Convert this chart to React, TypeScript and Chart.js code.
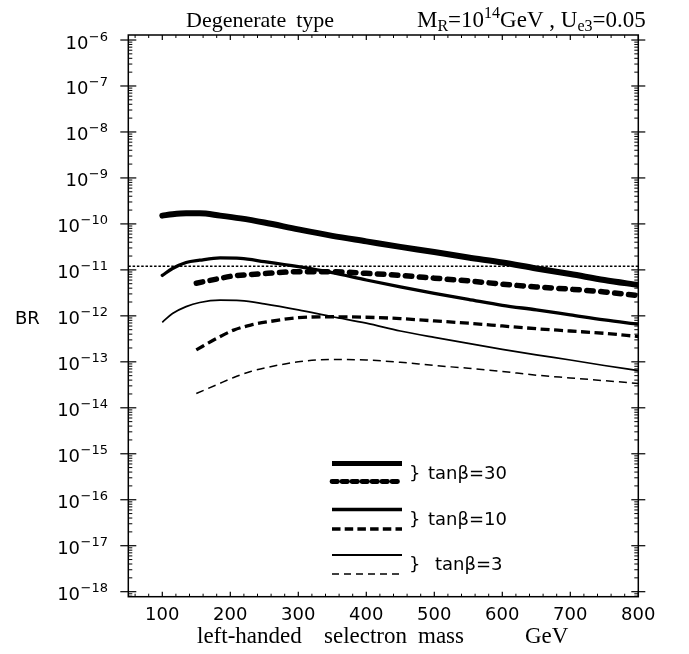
import React, { useEffect, useRef } from 'react';
import { Chart, registerables } from 'chart.js';

Chart.register(...registerables);

// x values (left-handed selectron mass, GeV)
const massSolid = [100, 115, 135, 155, 185, 215, 250, 300, 350, 400, 450, 500, 550, 600, 650, 700, 750, 800];
const massDashed = [150, 180, 205, 230, 255, 300, 350, 400, 450, 500, 550, 600, 650, 700, 750, 800];

// log10(BR)
const logBR_tb30_solid = [-9.82, -9.79, -9.77, -9.77, -9.82, -9.88, -9.97, -10.12, -10.26, -10.38, -10.5, -10.61, -10.73, -10.84, -10.97, -11.09, -11.22, -11.33];
const logBR_tb10_solid = [-11.12, -10.97, -10.84, -10.79, -10.74, -10.75, -10.82, -10.93, -11.06, -11.22, -11.37, -11.51, -11.64, -11.77, -11.87, -11.98, -12.09, -12.18];
const logBR_tb3_solid = [-12.14, -11.95, -11.8, -11.71, -11.66, -11.67, -11.74, -11.87, -12.02, -12.16, -12.33, -12.47, -12.6, -12.73, -12.85, -12.96, -13.08, -13.19];
const logBR_tb30_dashed = [-11.29, -11.2, -11.13, -11.1, -11.075, -11.04, -11.04, -11.075, -11.12, -11.18, -11.24, -11.31, -11.37, -11.42, -11.48, -11.56];
const logBR_tb10_dashed = [-12.74, -12.49, -12.31, -12.2, -12.13, -12.04, -12.02, -12.03, -12.06, -12.11, -12.16, -12.22, -12.28, -12.33, -12.38, -12.45];
const logBR_tb3_dashed = [-13.69, -13.5, -13.34, -13.21, -13.12, -13.0, -12.95, -12.96, -13.01, -13.08, -13.14, -13.21, -13.29, -13.35, -13.41, -13.47];

// experimental bound (dotted line)
const boundMass = [50, 800];
const boundBR = [1.2e-11, 1.2e-11];

// ticks
const yTickExponents = [-6, -7, -8, -9, -10, -11, -12, -13, -14, -15, -16, -17, -18];
const xTickLabels = [100, 200, 300, 400, 500, 600, 700, 800];
const legendLabels = ['tanβ=30', 'tanβ=10', 'tanβ=3'];

const X_MIN = 50;
const X_MAX = 800;
const Y_MIN = Math.pow(10, -18.109);
const Y_MAX = Math.pow(10, -5.891);

const toPoints = (xs: number[], logs: number[]) => xs.map((x, i) => ({ x, y: Math.pow(10, logs[i]) }));

const SANS = '"DejaVu Sans"';
const SERIF = '"Liberation Serif"';

const toSup = (n: number) => String(n).replace('-', '\u2212');

const decorPlugin = {
  id: 'decor',
  afterDraw(chart: any) {
    const { ctx, chartArea: a, scales } = chart;
    const xs = scales.x;
    const ys = scales.y;
    const line = (x1: number, y1: number, x2: number, y2: number) => {
      ctx.beginPath();
      ctx.moveTo(x1, y1);
      ctx.lineTo(x2, y2);
      ctx.stroke();
    };
    ctx.save();
    ctx.strokeStyle = '#000';
    ctx.fillStyle = '#000';
    ctx.setLineDash([]);
    ctx.lineWidth = 1.5;
    ctx.strokeRect(a.left, a.top, a.right - a.left, a.bottom - a.top);

    // y ticks
    ctx.lineWidth = 1.2;
    for (const e of yTickExponents) {
      const py = ys.getPixelForValue(Math.pow(10, e));
      line(a.left - 8, py, a.left + 8, py);
      line(a.right - 7, py, a.right + 7, py);
    }
    ctx.lineWidth = 1;
    for (let e = -19; e <= -6; e++) {
      for (let k = 2; k <= 9; k++) {
        const v = k * Math.pow(10, e);
        if (v < Y_MIN || v > Y_MAX) continue;
        const py = ys.getPixelForValue(v);
        line(a.left, py, a.left + 4, py);
        line(a.right - 4, py, a.right, py);
      }
    }
    // x ticks
    ctx.lineWidth = 1.2;
    for (const m of xTickLabels) {
      const px = xs.getPixelForValue(m);
      line(px, a.bottom, px, a.bottom - 5);
      line(px, a.top, px, a.top + 5);
    }
    ctx.lineWidth = 1;
    for (let m = 60; m < X_MAX; m += 20) {
      if (m % 100 === 0) continue;
      const px = xs.getPixelForValue(m);
      line(px, a.bottom, px, a.bottom - 3);
      line(px, a.top, px, a.top + 3);
    }

    // y tick labels
    ctx.textBaseline = 'alphabetic';
    ctx.textAlign = 'right';
    const labelRight = 108;
    for (const e of yTickExponents) {
      const py = ys.getPixelForValue(Math.pow(10, e));
      ctx.font = `13px ${SANS}`;
      const es = toSup(e);
      const ew = ctx.measureText(es).width;
      ctx.fillText(es, labelRight, py + 0.5);
      ctx.font = `18px ${SANS}`;
      ctx.fillText('10', labelRight - ew - 0.5, py + 8.5);
    }
    // BR label
    ctx.textAlign = 'left';
    ctx.font = `18px ${SANS}`;
    ctx.fillText('BR', 15, ys.getPixelForValue(1e-12) + 8.5);

    // x tick labels
    ctx.textAlign = 'center';
    ctx.font = `18px ${SANS}`;
    for (const m of xTickLabels) {
      ctx.fillText(String(m), xs.getPixelForValue(m), a.bottom + 23);
    }

    // x title
    ctx.textAlign = 'left';
    ctx.font = `23px ${SERIF}`;
    ctx.fillText('left-handed', 197, 643);
    ctx.fillText('selectron', 324, 643);
    ctx.fillText('mass', 418, 643);
    ctx.fillText('GeV', 525, 643);

    // title
    const base = 27;
    ctx.font = `22px ${SERIF}`;
    ctx.fillText('Degenerate', 186, base);
    ctx.fillText('type', 186 + ctx.measureText('Degenerate').width + 10, base);
    let cx = 417;
    const seg = (t: string, size: number, dy: number) => {
      ctx.font = `${size}px ${SERIF}`;
      ctx.fillText(t, cx, base + dy);
      cx += ctx.measureText(t).width;
    };
    seg('M', 23, 0);
    seg('R', 16, 4);
    seg('=10', 23, 0);
    seg('14', 16, -9);
    seg('GeV , U', 23, 0);
    seg('e3', 16, 4);
    seg('=0.05', 23, 0);

    // legend
    const lx1 = 332;
    const lx2 = 402;
    const legLine = (yy: number, w: number, dash: number[], cap: CanvasLineCap) => {
      ctx.lineWidth = w;
      ctx.setLineDash(dash);
      ctx.lineCap = cap;
      line(lx1, yy, lx2, yy);
    };
    legLine(463.5, 4.8, [], 'butt');
    legLine(481.5, 4.8, [5.5, 4.5], 'round');
    legLine(509.5, 3.3, [], 'butt');
    legLine(529, 3.3, [8.5, 4.2], 'butt');
    legLine(555, 1.8, [], 'butt');
    legLine(574, 1.5, [7, 5], 'butt');
    ctx.setLineDash([]);
    ctx.font = `18px ${SANS}`;
    ctx.textAlign = 'left';
    ctx.fillText('}', 409, 478.5);
    ctx.fillText(legendLabels[0], 428, 478.5);
    ctx.fillText('}', 409, 525);
    ctx.fillText(legendLabels[1], 428, 525);
    ctx.fillText('}', 409, 570);
    ctx.fillText(legendLabels[2], 435, 570);
    ctx.restore();
  },
};

export default function App() {
  const ref = useRef<HTMLCanvasElement | null>(null);
  useEffect(() => {
    if (!ref.current) return;
    const common = { pointRadius: 0, pointHoverRadius: 0, fill: false, cubicInterpolationMode: 'monotone' as const, borderColor: '#000', backgroundColor: '#000' };
    const chart = new Chart(ref.current, {
      type: 'line',
      data: {
        datasets: [
          { ...common, label: 'bound', data: boundMass.map((x, i) => ({ x, y: boundBR[i] })), borderWidth: 1.3, borderDash: [2.5, 1.8] },
          { ...common, label: 'tanβ=30 solid', data: toPoints(massSolid, logBR_tb30_solid), borderWidth: 6, borderCapStyle: 'round' },
          { ...common, label: 'tanβ=30 dashed', data: toPoints(massDashed, logBR_tb30_dashed), borderWidth: 5.5, borderDash: [6.5, 7.5], borderCapStyle: 'round' },
          { ...common, label: 'tanβ=10 solid', data: toPoints(massSolid, logBR_tb10_solid), borderWidth: 3.3, borderCapStyle: 'round' },
          { ...common, label: 'tanβ=10 dashed', data: toPoints(massDashed, logBR_tb10_dashed), borderWidth: 3.3, borderDash: [9, 4.5] },
          { ...common, label: 'tanβ=3 solid', data: toPoints(massSolid, logBR_tb3_solid), borderWidth: 1.7 },
          { ...common, label: 'tanβ=3 dashed', data: toPoints(massDashed, logBR_tb3_dashed), borderWidth: 1.5, borderDash: [8, 5] },
        ],
      },
      options: {
        responsive: false,
        animation: false,
        devicePixelRatio: 1,
        layout: { padding: { left: 128.3, right: 50.7, top: 35, bottom: 57.3 } },
        plugins: { legend: { display: false }, tooltip: { enabled: false }, title: { display: false } },
        events: [],
        scales: {
          x: { type: 'linear', min: X_MIN, max: X_MAX, display: false },
          y: { type: 'logarithmic', min: Y_MIN, max: Y_MAX, display: false },
        },
      },
      plugins: [decorPlugin],
    });
    return () => chart.destroy();
  }, []);
  return (
    <div style={{ position: 'fixed', left: 0, top: 0, width: 689, height: 654, background: '#fff' }}>
      <canvas ref={ref} width={689} height={654} style={{ display: 'block' }} />
    </div>
  );
}
